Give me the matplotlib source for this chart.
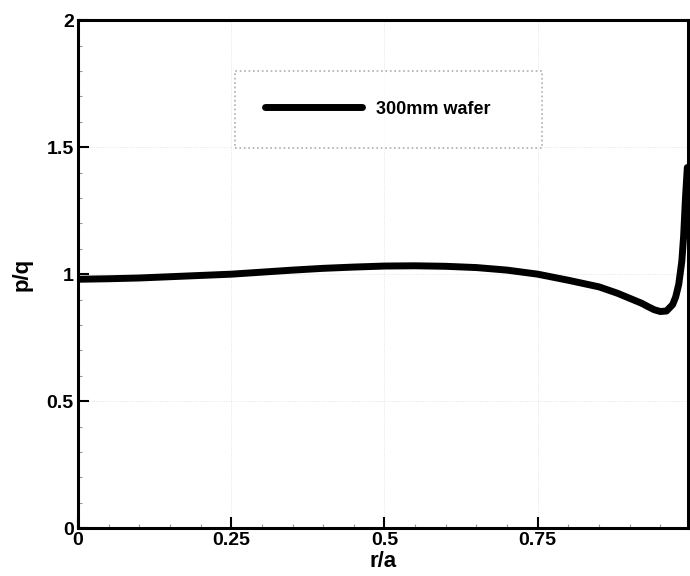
import numpy as np
import matplotlib.pyplot as plt
from matplotlib.ticker import MultipleLocator

plt.rcParams['font.family'] = ['Liberation Sans', 'DejaVu Sans']

# values
r = [0, 0.05, 0.1, 0.15, 0.2, 0.25, 0.3, 0.35, 0.4, 0.45, 0.5, 0.55, 0.6,
     0.65, 0.7, 0.75, 0.8, 0.85, 0.88, 0.9, 0.92, 0.93, 0.94, 0.95, 0.96,
     0.97, 0.975, 0.98, 0.985, 0.988, 0.991, 0.994]
pq = [0.98, 0.982, 0.985, 0.99, 0.995, 1.0, 1.008, 1.016, 1.023, 1.028, 1.032,
      1.033, 1.031, 1.026, 1.016, 1.0, 0.976, 0.95, 0.925, 0.905, 0.885, 0.872,
      0.86, 0.853, 0.855, 0.88, 0.91, 0.96, 1.05, 1.15, 1.3, 1.42]

fig = plt.figure(figsize=(6.9, 5.76), dpi=100)
ax = fig.add_axes([0.113, 0.083, 0.884, 0.882])

ax.plot(r, pq, color='black', lw=5, solid_capstyle='round', label='300mm wafer')

ax.set_xlim(0, 0.995)
ax.set_ylim(0, 2)
ax.set_xticks([0, 0.25, 0.5, 0.75])
ax.set_xticklabels(['0', '0.25', '0.5', '0.75'])
ax.set_yticks([0, 0.5, 1, 1.5, 2])
ax.set_yticklabels(['0', '0.5', '1', '1.5', '2'])
ax.xaxis.set_minor_locator(MultipleLocator(0.05))
ax.yaxis.set_minor_locator(MultipleLocator(0.1))
ax.tick_params(which='major', direction='in', length=8, width=1.5,
               labelsize=14, pad=3)
ax.tick_params(which='minor', direction='in', length=3, width=0.8, color='#999999')
for lbl in ax.get_xticklabels() + ax.get_yticklabels():
    lbl.set_fontweight('bold')
for s in ax.spines.values():
    s.set_linewidth(2.2)

ax.grid(True, which='major', color='#dddddd', linestyle=':', linewidth=0.6)

ax.set_xlabel('r/a', fontsize=16, fontweight='bold', labelpad=1)
ax.set_ylabel('p/q', fontsize=16, fontweight='bold', labelpad=10)

leg = ax.legend(loc='upper left', bbox_to_anchor=(0.257, 0.0, 0.504, 0.9),
                mode='expand', handlelength=5.4, handletextpad=0.8,
                borderpad=1.65, borderaxespad=0, fancybox=False, frameon=True,
                prop={'weight': 'bold', 'size': 13})
leg.get_frame().set_edgecolor('#999999')
leg.get_frame().set_linestyle(':')
leg.get_frame().set_linewidth(1.2)

fig.savefig('out.png', dpi=100)
